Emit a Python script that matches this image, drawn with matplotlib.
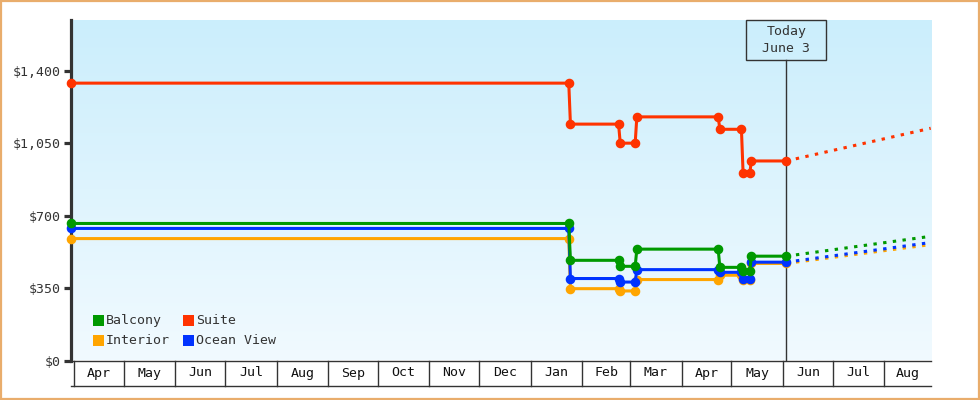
import matplotlib
matplotlib.use("Agg")
import matplotlib.pyplot as plt
import matplotlib.dates as mdates
from matplotlib.patches import Rectangle
import numpy as np

# ---------------- data ----------------
dates = ["2023-03-30", "2024-01-24", "2024-01-25", "2024-02-23", "2024-02-24",
         "2024-03-04", "2024-03-05", "2024-04-23", "2024-04-24", "2024-05-07",
         "2024-05-08", "2024-05-12", "2024-05-13", "2024-06-03"]
balcony = [662, 662, 484, 484, 455, 455, 538, 538, 450, 450, 430, 430, 504, 504]
suite = [1340, 1340, 1142, 1142, 1050, 1050, 1177, 1177, 1117, 1117, 904, 904, 964, 964]
interior = [589, 589, 347, 347, 336, 336, 391, 391, 412, 412, 390, 390, 469, 469]
ocean_view = [638, 638, 396, 396, 379, 379, 439, 439, 426, 426, 394, 394, 475, 475]

forecast_date = "2024-08-29"
forecast_end = {"Balcony": 600, "Suite": 1122, "Interior": 560, "Ocean View": 570}

series_names = ["Balcony", "Suite", "Interior", "Ocean View"]
series_values = {"Balcony": balcony, "Suite": suite, "Interior": interior, "Ocean View": ocean_view}
colors = {"Balcony": "#009900", "Suite": "#ff3300", "Interior": "#ffa500", "Ocean View": "#0033ff"}
draw_order = ["Interior", "Ocean View", "Balcony", "Suite"]

today = "2024-06-03"
today_label = "Today\nJune 3"
y_ticks = [0, 350, 700, 1050, 1400]
month_labels = ["Apr", "May", "Jun", "Jul", "Aug", "Sep", "Oct", "Nov", "Dec",
                "Jan", "Feb", "Mar", "Apr", "May", "Jun", "Jul", "Aug"]
month_starts = ["2023-04-01", "2023-05-01", "2023-06-01", "2023-07-01", "2023-08-01",
                "2023-09-01", "2023-10-01", "2023-11-01", "2023-12-01", "2024-01-01",
                "2024-02-01", "2024-03-01", "2024-04-01", "2024-05-01", "2024-06-01",
                "2024-07-01", "2024-08-01"]

# ---------------- figure ----------------
W, H = 980, 400
fig = plt.figure(figsize=(W / 100, H / 100), dpi=100)
fig.patch.set_facecolor("white")

def fx(px):
    return px / W

def fy(py):
    return 1 - py / H

ax_left, ax_right, ax_top, ax_bot = 70.7, 930.7, 20, 360.5
ax = fig.add_axes([fx(ax_left), fy(ax_bot), (ax_right - ax_left) / W, (ax_bot - ax_top) / H])

FONT = "DejaVu Sans Mono"
FS = 9.5
TXT = "#333333"

x = mdates.datestr2num(dates)
xmin = x[0]
xmax = mdates.datestr2num(forecast_date)

# gradient background
top_c = np.array([203, 238, 252]) / 255
bot_c = np.array([241, 250, 255]) / 255
t = np.linspace(0, 1, 256)[:, None]
grad = (top_c[None, :] * (1 - t) + bot_c[None, :] * t)[:, None, :]
ax.imshow(grad, extent=[0, 1, 0, 1], transform=ax.transAxes, aspect="auto", zorder=0)
ax.set_xlim(xmin, xmax)
ax.set_ylim(0, 1645)

lw = 2.2
for name in draw_order:
    vals = series_values[name]
    c = colors[name]
    ax.plot([x[-1], xmax], [vals[-1], forecast_end[name]], color=c, lw=lw,
            linestyle=(0, (1.1, 2.1)), zorder=3, dash_capstyle="butt")
    ax.plot(x, vals, color=c, lw=lw, marker="o", ms=5.9, mec=c, mfc=c, zorder=4,
            clip_on=False)

# spines / ticks
for s in ["top", "right", "bottom"]:
    ax.spines[s].set_visible(False)
ax.spines["left"].set_color("#333333")
ax.spines["left"].set_linewidth(2.3)
ax.set_yticks(y_ticks)
ax.set_yticklabels(["$" + format(v, ",") for v in y_ticks], fontfamily=FONT, fontsize=FS, color=TXT)
ax.tick_params(axis="y", length=5, width=2.3, color="#333333", pad=2)
ax.set_xticks([])

# month table under axis
ms = mdates.datestr2num(month_starts)
tb = ax.get_xaxis_transform()
y_lo = -25 / (ax_bot - ax_top)
ax.plot([xmin, xmax], [0, 0], transform=tb, color="#333333", lw=1.0, clip_on=False, zorder=5)
ax.plot([xmin, xmax], [y_lo, y_lo], transform=tb, color="#333333", lw=1.0, clip_on=False, zorder=5)
bounds = list(ms) + [xmax]
for i, lab in enumerate(month_labels):
    a, b = bounds[i], bounds[i + 1]
    ax.plot([a, a], [0, y_lo], transform=tb, color="#333333", lw=1.0, clip_on=False, zorder=5)
    ax.text((a + b) / 2, y_lo / 2, lab, transform=tb, ha="center", va="center",
            fontfamily=FONT, fontsize=FS, color="#111111", clip_on=False)

# today marker
tx = mdates.datestr2num(today)
tpx = ax.transData.transform((tx, 0))[0]
box_bot_px = 60
yb = 1 - (box_bot_px - ax_top) / (ax_bot - ax_top)
ax.plot([tx, tx], [0, yb], transform=tb, color="#333333", lw=1.0, zorder=2)
fig.patches.append(Rectangle((fx(tpx - 40), fy(box_bot_px)), 80 / W, 40 / H,
                             transform=fig.transFigure, fill=False, ec="#333333", lw=1.0))
fig.text(fx(tpx), fy(40), today_label, ha="center", va="center", fontfamily=FONT,
         fontsize=FS, color=TXT, linespacing=1.35)

# legend (manual, 2 columns)
leg_pos = {"Balcony": (93, 315), "Suite": (183, 315), "Interior": (93, 335), "Ocean View": (183, 335)}
for name in series_names:
    px, py = leg_pos[name]
    fig.patches.append(Rectangle((fx(px), fy(py + 11)), 11 / W, 11 / H, transform=fig.transFigure,
                                 fc=colors[name], ec="none"))
    fig.text(fx(px + 13), fy(py + 5.5), name, ha="left", va="center", fontfamily=FONT,
             fontsize=FS, color=TXT)

# figure border
fig.patches.append(Rectangle((0.001, 0.002), 0.998, 0.996, transform=fig.transFigure,
                             fill=False, ec="#e9ad6c", lw=1.6))

fig.savefig("out.png", dpi=100)
